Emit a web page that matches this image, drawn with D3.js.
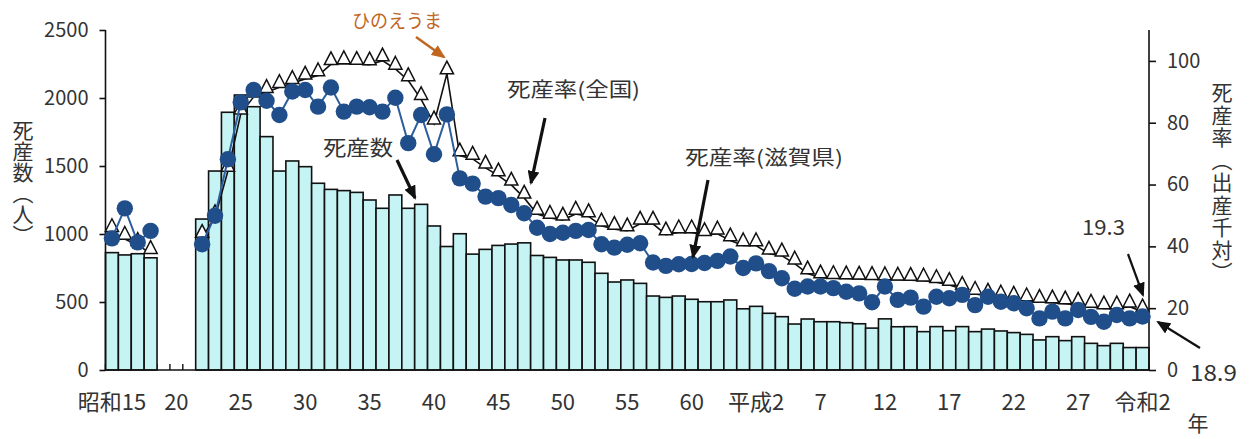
<!DOCTYPE html>
<html><head><meta charset="utf-8">
<script src="https://cdn.jsdelivr.net/npm/d3@7"></script>
<style>
html,body{margin:0;padding:0;background:#fff;}
svg text{font-family:"Noto Sans CJK JP","Noto Sans",sans-serif;fill:#333;}
</style></head><body>
<svg id="c" width="1250" height="439"></svg>
<script>
// ---- data ----
const years = d3.range(1940, 2021);
const xTickYears = [1940,1945,1950,1955,1960,1965,1970,1975,1980,1985,1990,1995,2000,2005,2010,2015,2020];
const xTickLabels = ["昭和15","20","25","30","35","40","45","50","55","60","平成2","7","12","17","22","27","令和2"];
const countTicks = [0,500,1000,1500,2000,2500];
const rateTicks = [0,20,40,60,80,100];
// 死産数 (Shiga)
const stillbirths = [863,846,855,825,null,null,null,
 1110,1463,1895,2022,1936,1716,1463,1537,1495,1373,1328,1319,1306,1250,
 1189,1287,1189,1218,1059,908,1002,852,887,916,926,935,842,828,809,809,792,711,647,662,
 637,544,534,544,520,502,502,515,450,468,417,392,338,375,355,355,348,340,308,376,
 318,319,282,319,289,319,282,301,287,275,262,221,245,216,245,196,179,196,165,165];
// 死産率(全国)
const rateNational = [46.5,44.0,42.0,39.4,null,null,null,
 44.6,51.0,66.0,84.5,90.0,91.5,93.1,94.4,95.8,96.9,100.5,100.8,100.6,100.4,
 101.7,99.0,95.3,89.2,81.3,97.5,71.0,69.9,67.0,64.5,61.5,57.3,52.1,50.8,50.2,52.1,51.3,48.3,47.2,46.7,
 48.9,48.9,45.4,46.1,46.1,45.2,45.7,43.5,41.9,41.9,39.2,38.6,36.0,32.8,31.5,31.3,31.2,31.1,31.0,30.9,
 30.8,30.7,30.5,30.0,29.1,27.8,26.2,25.6,25.0,24.6,24.1,23.6,23.4,23.1,22.7,22.0,21.5,21.5,22.1,20.5];
// 死産率(滋賀県)
const rateShiga = [42.6,52.3,41.3,45.0,null,null,null,
 40.7,49.9,68.2,86.6,90.6,87.1,82.5,90.1,90.6,85.2,91.4,83.6,85.2,85.0,
 83.6,88.1,73.4,82.5,69.8,82.7,62.0,60.3,56.1,55.6,53.4,50.7,46.0,44.0,44.4,45.0,45.3,40.7,39.6,40.5,
 41.0,34.8,33.7,34.2,34.3,34.6,35.3,36.7,33.0,34.5,32.0,29.7,26.3,27.0,27.0,26.5,25.3,24.8,21.9,27.0,
 22.7,23.4,20.5,23.7,23.2,24.3,21.0,23.7,22.1,21.6,20.0,16.7,18.9,16.7,19.4,17.2,15.6,17.8,16.7,17.3];

// ---- layout ----
const svg = d3.select("#c");
const L = 105.5, R = 1149, T = 30, B = 370;
const x = d3.scaleBand().domain(years).range([L, R]).padding(0);
const yL = d3.scaleLinear().domain([0, 2500]).range([B, T]);
const yR = d3.scaleLinear().domain([0, 110]).range([B, T]);
const cx = y => x(y) + x.bandwidth() / 2;

// arrow markers
const defs = svg.append("defs");
function mk(id, color){
  defs.append("marker").attr("id", id).attr("markerUnits","userSpaceOnUse")
    .attr("viewBox","0 0 14 12").attr("refX",12).attr("refY",6)
    .attr("markerWidth",14).attr("markerHeight",12).attr("orient","auto")
    .append("path").attr("d","M0,0 L14,6 L0,12 Z").attr("fill",color);
}
mk("ab","#111"); mk("ao","#c0661f");

// category boundary ticks (inside)
svg.append("g").selectAll("line").data(years.concat([2021])).join("line")
  .attr("x1", d => d === 2021 ? R : x(d)).attr("x2", d => d === 2021 ? R : x(d))
  .attr("y1", B).attr("y2", B - 6).attr("stroke","#111").attr("stroke-width",1.4);

// bars
const barData = years.map((y,i)=>({y, v: stillbirths[i]})).filter(d => d.v != null);
svg.append("g").selectAll("rect").data(barData).join("rect")
  .attr("x", d => x(d.y)).attr("width", x.bandwidth())
  .attr("y", d => yL(d.v)).attr("height", d => B - yL(d.v))
  .attr("fill","#c6f3f3").attr("stroke","#111").attr("stroke-width",1.6);

// axes
const gL = svg.append("g").attr("transform",`translate(${L},0)`)
  .call(d3.axisLeft(yL).tickValues(countTicks).tickFormat(d3.format("d")).tickSize(6).tickSizeOuter(0).tickPadding(11));
const gR = svg.append("g").attr("transform",`translate(${R},0)`)
  .call(d3.axisRight(yR).tickValues(rateTicks).tickFormat(d3.format("d")).tickSize(7).tickSizeOuter(0).tickPadding(11));
const gX = svg.append("g").attr("transform",`translate(0,${B})`)
  .call(d3.axisBottom(x).tickValues(xTickYears).tickSize(0).tickSizeOuter(0)
    .tickFormat(d => xTickLabels[xTickYears.indexOf(d)]));
[gL,gR,gX].forEach(g=>{
  g.select(".domain").attr("stroke","#111").attr("stroke-width",1.6);
  g.selectAll(".tick line").attr("stroke","#111").attr("stroke-width",1.6);
  g.selectAll("text").attr("fill","#333").style("font-family",'"Noto Sans CJK JP",sans-serif');
});
gL.selectAll("text").style("font-size","20px");
gR.selectAll("text").style("font-size","20px");
gX.selectAll("text").style("font-size","22px").attr("y",40).attr("dy",0);
gL.select(".domain").attr("d",`M0,${B}V${T}`);
gR.select(".domain").attr("d",`M0,${B}V${T}`);
gX.select(".domain").attr("d",`M${L},0H${R}`);

// national line + triangles
const natData = years.map((y,i)=>({y, v: rateNational[i]}));
svg.append("path").datum(natData)
  .attr("d", d3.line().defined(d=>d.v!=null).x(d=>cx(d.y)).y(d=>yR(d.v)+5))
  .attr("fill","none").attr("stroke","#111").attr("stroke-width",1.6);
svg.append("g").selectAll("path").data(natData.filter(d=>d.v!=null)).join("path")
  .attr("transform", d=>`translate(${cx(d.y)},${yR(d.v)})`)
  .attr("d","M0,-7.5 L6.6,5.2 L-6.6,5.2 Z")
  .attr("fill","#fff").attr("stroke","#111").attr("stroke-width",1.5);

// Shiga line + circles
const shData = years.map((y,i)=>({y, v: rateShiga[i]}));
svg.append("path").datum(shData)
  .attr("d", d3.line().defined(d=>d.v!=null).x(d=>cx(d.y)).y(d=>yR(d.v)))
  .attr("fill","none").attr("stroke","#2c5d9e").attr("stroke-width",2);
svg.append("g").selectAll("circle").data(shData.filter(d=>d.v!=null)).join("circle")
  .attr("cx", d=>cx(d.y)).attr("cy", d=>yR(d.v)).attr("r",8.2)
  .attr("fill","#1f4e8a");

// axis titles (vertical)
function vtext(t, xc, y0, size, ls){
  svg.append("text").attr("x",xc).attr("y",y0)
    .style("writing-mode","vertical-rl").style("font-size",size+"px")
    .style("letter-spacing",ls+"px").text(t);
}
vtext("死産数（人）", 23, 120, 21, 0);
vtext("死産率（出産千対）", 1222, 82, 21, 1.5);
svg.append("text").attr("x",1198).attr("y",431).attr("text-anchor","middle").style("font-size","21px").text("年");

// annotations
function label(t, x0, yb, w, size, color){
  svg.append("text").attr("x",x0).attr("y",yb).attr("textLength",w).attr("lengthAdjust","spacingAndGlyphs")
    .style("font-size",size+"px").style("fill",color||"#333").text(t);
}
function arrow(x1,y1,x2,y2,color,mid,w){
  svg.append("line").attr("x1",x1).attr("y1",y1).attr("x2",x2).attr("y2",y2)
    .attr("stroke",color).attr("stroke-width",w||3).attr("marker-end",`url(#${mid})`);
}
label("ひのえうま", 352, 28, 90, 19, "#c0661f");
arrow(416,37,444,57,"#c0661f","ao",2.5);
label("死産率(全国)", 507, 97, 133, 20);
arrow(545,118,531,183,"#111","ab",3.2);
label("死産数", 323, 155, 70, 21);
arrow(397,160,415,198,"#111","ab",3.2);
label("死産率(滋賀県)", 685, 165, 158, 20);
arrow(708,180,693,257,"#111","ab",3.2);
label("19.3", 1082, 235, 43, 21);
arrow(1128,254,1143,295,"#111","ab",2.2);
label("18.9", 1190, 381, 47, 22);
arrow(1200,348,1158,322,"#111","ab",2.2);
</script>
</body></html>
